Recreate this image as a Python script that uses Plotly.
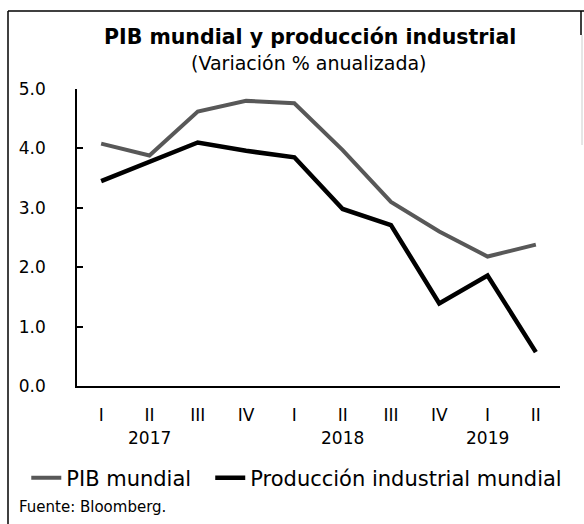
import plotly.graph_objects as go

# ---- data ----
quarters = ["I", "II", "III", "IV", "I", "II", "III", "IV", "I", "II"]
years = ["2017", "2018", "2019"]
year_pos = [1, 5, 8]
pib_mundial = [4.08, 3.88, 4.62, 4.80, 4.76, 3.97, 3.10, 2.60, 2.18, 2.38]
prod_industrial = [3.45, 3.77, 4.10, 3.96, 3.85, 2.98, 2.71, 1.39, 1.86, 0.57]
y_ticks = [0, 1, 2, 3, 4, 5]
y_ticktext = ["0.0", "1.0", "2.0", "3.0", "4.0", "5.0"]

W, H = 584, 524
L, R, T, B = 77, 24, 89, 138
pw, ph = W - L - R, H - T - B

def px(x):
    return (x - L) / pw

def py(y):
    return (H - B - y) / ph

FONT = "DejaVu Sans"
idx = list(range(len(quarters)))

fig = go.Figure()
fig.add_trace(go.Scatter(x=idx, y=pib_mundial, mode="lines", name="PIB mundial",
                         line=dict(color="#585858", width=4), legend="legend"))
fig.add_trace(go.Scatter(x=idx, y=prod_industrial, mode="lines",
                         name="Producción industrial mundial",
                         line=dict(color="#000000", width=4.5), legend="legend2"))

fig.update_xaxes(range=[-0.5, 9.5], tickvals=idx, ticktext=quarters,
                 showline=True, linecolor="black", linewidth=1.5,
                 showgrid=False, zeroline=False, ticks="",
                 tickfont=dict(family=FONT, size=17, color="black"),
                 ticklabelstandoff=13, automargin=False)
fig.update_yaxes(range=[0, 5], tickvals=y_ticks, ticktext=y_ticktext,
                 showline=True, linecolor="black", linewidth=1.5,
                 showgrid=False, zeroline=False, ticks="inside", ticklen=6,
                 tickcolor="black", tickwidth=1.5,
                 tickfont=dict(family=FONT, size=17, color="black"),
                 ticklabelstandoff=26, automargin=False)

annotations = []
for yr, pos in zip(years, year_pos):
    annotations.append(dict(x=pos, y=py(438), xref="x", yref="paper", text=yr,
                            showarrow=False, xanchor="center", yanchor="middle",
                            font=dict(family=FONT, size=17, color="black")))
annotations.append(dict(x=px(310), y=py(37), xref="paper", yref="paper",
                        text="PIB mundial y producción industrial", showarrow=False,
                        xanchor="center", yanchor="middle",
                        font=dict(family=FONT, size=20.5, color="black", weight="bold")))
annotations.append(dict(x=px(309), y=py(63), xref="paper", yref="paper",
                        text="(Variación % anualizada)", showarrow=False,
                        xanchor="center", yanchor="middle",
                        font=dict(family=FONT, size=19, color="black")))
annotations.append(dict(x=px(17), y=py(507), xref="paper", yref="paper",
                        text="Fuente: Bloomberg.", showarrow=False,
                        xanchor="left", yanchor="middle",
                        font=dict(family=FONT, size=15, color="black")))

shapes = [
    dict(type="line", xref="paper", yref="paper", x0=px(8), x1=px(8), y0=py(11), y1=py(524),
         line=dict(color="black", width=1.5)),
    dict(type="line", xref="paper", yref="paper", x0=px(8), x1=px(584), y0=py(11), y1=py(11),
         line=dict(color="black", width=1.5)),
    dict(type="line", xref="paper", yref="paper", x0=px(581), x1=px(581), y0=py(11), y1=py(35),
         line=dict(color="black", width=1.5)),
    dict(type="line", xref="paper", yref="paper", x0=px(582), x1=px(582), y0=py(35), y1=py(145),
         line=dict(color="#cccccc", width=1)),
]

leg_common = dict(orientation="h", xref="container", yref="container",
                  y=(H - 478) / H, xanchor="left", yanchor="middle",
                  font=dict(family=FONT, size=21, color="black"),
                  itemwidth=30, bgcolor="rgba(0,0,0,0)")

fig.update_layout(
    width=W, height=H, margin=dict(l=L, r=R, t=T, b=B, autoexpand=False),
    paper_bgcolor="white", plot_bgcolor="white",
    showlegend=True,
    legend=dict(x=0.045, **leg_common),
    legend2=dict(x=0.36, **leg_common),
    annotations=annotations, shapes=shapes,
)

fig.write_html("out.html", config={"displayModeBar": False},
               post_script="document.body.style.margin='0';document.body.style.overflow='hidden';")
